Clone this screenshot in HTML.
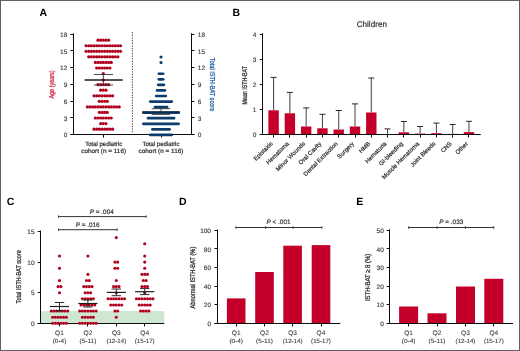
<!DOCTYPE html>
<html><head><meta charset="utf-8"><title>Figure</title>
<style>
html,body{margin:0;padding:0;background:#fff;}
body{width:520px;height:351px;overflow:hidden;}
svg{display:block;font-family:"Liberation Sans",sans-serif;text-rendering:geometricPrecision;}
</style></head>
<body>
<svg width="520" height="351" viewBox="0 0 520 351">
<defs><filter id="soft" x="-5%" y="-5%" width="110%" height="110%"><feGaussianBlur stdDeviation="0.32"/></filter></defs>
<rect x="0" y="0" width="520" height="351" fill="#fff"/>
<g filter="url(#soft)">
<text x="39.5" y="16.2" font-size="10.5" font-weight="bold" fill="#000">A</text>
<line x1="73.50" y1="33.20" x2="73.50" y2="134.95" stroke="#111" stroke-width="1.0"/>
<line x1="191.50" y1="33.20" x2="191.50" y2="134.95" stroke="#111" stroke-width="1.0"/>
<line x1="70.30" y1="134.50" x2="194.40" y2="134.50" stroke="#111" stroke-width="1.0"/>
<line x1="70.30" y1="134.50" x2="73.20" y2="134.50" stroke="#111" stroke-width="1.0"/>
<line x1="191.60" y1="134.50" x2="194.40" y2="134.50" stroke="#111" stroke-width="1.0"/>
<text x="67.30" y="137.25" font-size="6.5" text-anchor="end" fill="#444" stroke="#444" stroke-width="0.18" >0</text>
<text x="197.80" y="137.25" font-size="6.5" text-anchor="start" fill="#444" stroke="#444" stroke-width="0.18" >0</text>
<line x1="70.30" y1="117.50" x2="73.20" y2="117.50" stroke="#111" stroke-width="1.0"/>
<line x1="191.60" y1="117.50" x2="194.40" y2="117.50" stroke="#111" stroke-width="1.0"/>
<text x="67.30" y="120.53" font-size="6.5" text-anchor="end" fill="#444" stroke="#444" stroke-width="0.18" >3</text>
<text x="197.80" y="120.53" font-size="6.5" text-anchor="start" fill="#444" stroke="#444" stroke-width="0.18" >3</text>
<line x1="70.30" y1="101.50" x2="73.20" y2="101.50" stroke="#111" stroke-width="1.0"/>
<line x1="191.60" y1="101.50" x2="194.40" y2="101.50" stroke="#111" stroke-width="1.0"/>
<text x="67.30" y="103.82" font-size="6.5" text-anchor="end" fill="#444" stroke="#444" stroke-width="0.18" >6</text>
<text x="197.80" y="103.82" font-size="6.5" text-anchor="start" fill="#444" stroke="#444" stroke-width="0.18" >6</text>
<line x1="70.30" y1="84.50" x2="73.20" y2="84.50" stroke="#111" stroke-width="1.0"/>
<line x1="191.60" y1="84.50" x2="194.40" y2="84.50" stroke="#111" stroke-width="1.0"/>
<text x="67.30" y="87.10" font-size="6.5" text-anchor="end" fill="#444" stroke="#444" stroke-width="0.18" >9</text>
<text x="197.80" y="87.10" font-size="6.5" text-anchor="start" fill="#444" stroke="#444" stroke-width="0.18" >9</text>
<line x1="70.30" y1="67.50" x2="73.20" y2="67.50" stroke="#111" stroke-width="1.0"/>
<line x1="191.60" y1="67.50" x2="194.40" y2="67.50" stroke="#111" stroke-width="1.0"/>
<text x="67.30" y="70.38" font-size="6.5" text-anchor="end" fill="#444" stroke="#444" stroke-width="0.18" >12</text>
<text x="197.80" y="70.38" font-size="6.5" text-anchor="start" fill="#444" stroke="#444" stroke-width="0.18" >12</text>
<line x1="70.30" y1="50.50" x2="73.20" y2="50.50" stroke="#111" stroke-width="1.0"/>
<line x1="191.60" y1="50.50" x2="194.40" y2="50.50" stroke="#111" stroke-width="1.0"/>
<text x="67.30" y="53.67" font-size="6.5" text-anchor="end" fill="#444" stroke="#444" stroke-width="0.18" >15</text>
<text x="197.80" y="53.67" font-size="6.5" text-anchor="start" fill="#444" stroke="#444" stroke-width="0.18" >15</text>
<line x1="70.30" y1="34.50" x2="73.20" y2="34.50" stroke="#111" stroke-width="1.0"/>
<line x1="191.60" y1="34.50" x2="194.40" y2="34.50" stroke="#111" stroke-width="1.0"/>
<text x="67.30" y="36.95" font-size="6.5" text-anchor="end" fill="#444" stroke="#444" stroke-width="0.18" >18</text>
<text x="197.80" y="36.95" font-size="6.5" text-anchor="start" fill="#444" stroke="#444" stroke-width="0.18" >18</text>
<line x1="103.50" y1="134.50" x2="103.50" y2="137.60" stroke="#111" stroke-width="1.0"/>
<line x1="161.50" y1="134.50" x2="161.50" y2="137.60" stroke="#111" stroke-width="1.0"/>
<line x1="132.4" y1="32.2" x2="132.4" y2="133" stroke="#444" stroke-width="1" stroke-dasharray="1.3 1.3"/>
<text transform="translate(54.40,84.50) rotate(-90)" x="0" y="0" font-size="7.1" text-anchor="middle" fill="#cc2a48" stroke="#cc2a48" stroke-width="0.28" textLength="28.2" lengthAdjust="spacingAndGlyphs">Age (years)</text>
<text transform="translate(210.10,84.55) rotate(90)" x="0" y="0" font-size="7.2" text-anchor="middle" fill="#2a62a0" stroke="#2a62a0" stroke-width="0.28" textLength="53.4" lengthAdjust="spacingAndGlyphs">Total ISTH-BAT score</text>
<circle cx="98.00" cy="40.18" r="1.6" fill="#b0001f"/>
<circle cx="100.65" cy="40.18" r="1.6" fill="#b0001f"/>
<circle cx="103.30" cy="40.18" r="1.6" fill="#b0001f"/>
<circle cx="105.95" cy="40.18" r="1.6" fill="#b0001f"/>
<circle cx="108.60" cy="40.18" r="1.6" fill="#b0001f"/>
<circle cx="86.08" cy="45.74" r="1.6" fill="#b0001f"/>
<circle cx="88.73" cy="45.74" r="1.6" fill="#b0001f"/>
<circle cx="91.38" cy="45.74" r="1.6" fill="#b0001f"/>
<circle cx="94.03" cy="45.74" r="1.6" fill="#b0001f"/>
<circle cx="96.67" cy="45.74" r="1.6" fill="#b0001f"/>
<circle cx="99.33" cy="45.74" r="1.6" fill="#b0001f"/>
<circle cx="101.97" cy="45.74" r="1.6" fill="#b0001f"/>
<circle cx="104.62" cy="45.74" r="1.6" fill="#b0001f"/>
<circle cx="107.28" cy="45.74" r="1.6" fill="#b0001f"/>
<circle cx="109.92" cy="45.74" r="1.6" fill="#b0001f"/>
<circle cx="112.58" cy="45.74" r="1.6" fill="#b0001f"/>
<circle cx="115.22" cy="45.74" r="1.6" fill="#b0001f"/>
<circle cx="117.88" cy="45.74" r="1.6" fill="#b0001f"/>
<circle cx="120.53" cy="45.74" r="1.6" fill="#b0001f"/>
<circle cx="86.08" cy="51.30" r="1.6" fill="#b0001f"/>
<circle cx="88.73" cy="51.30" r="1.6" fill="#b0001f"/>
<circle cx="91.38" cy="51.30" r="1.6" fill="#b0001f"/>
<circle cx="94.03" cy="51.30" r="1.6" fill="#b0001f"/>
<circle cx="96.67" cy="51.30" r="1.6" fill="#b0001f"/>
<circle cx="99.33" cy="51.30" r="1.6" fill="#b0001f"/>
<circle cx="101.97" cy="51.30" r="1.6" fill="#b0001f"/>
<circle cx="104.62" cy="51.30" r="1.6" fill="#b0001f"/>
<circle cx="107.28" cy="51.30" r="1.6" fill="#b0001f"/>
<circle cx="109.92" cy="51.30" r="1.6" fill="#b0001f"/>
<circle cx="112.58" cy="51.30" r="1.6" fill="#b0001f"/>
<circle cx="115.22" cy="51.30" r="1.6" fill="#b0001f"/>
<circle cx="117.88" cy="51.30" r="1.6" fill="#b0001f"/>
<circle cx="120.53" cy="51.30" r="1.6" fill="#b0001f"/>
<circle cx="88.72" cy="56.86" r="1.6" fill="#b0001f"/>
<circle cx="91.38" cy="56.86" r="1.6" fill="#b0001f"/>
<circle cx="94.02" cy="56.86" r="1.6" fill="#b0001f"/>
<circle cx="96.67" cy="56.86" r="1.6" fill="#b0001f"/>
<circle cx="99.32" cy="56.86" r="1.6" fill="#b0001f"/>
<circle cx="101.97" cy="56.86" r="1.6" fill="#b0001f"/>
<circle cx="104.62" cy="56.86" r="1.6" fill="#b0001f"/>
<circle cx="107.27" cy="56.86" r="1.6" fill="#b0001f"/>
<circle cx="109.92" cy="56.86" r="1.6" fill="#b0001f"/>
<circle cx="112.57" cy="56.86" r="1.6" fill="#b0001f"/>
<circle cx="115.22" cy="56.86" r="1.6" fill="#b0001f"/>
<circle cx="117.88" cy="56.86" r="1.6" fill="#b0001f"/>
<circle cx="95.35" cy="62.42" r="1.6" fill="#b0001f"/>
<circle cx="98.00" cy="62.42" r="1.6" fill="#b0001f"/>
<circle cx="100.65" cy="62.42" r="1.6" fill="#b0001f"/>
<circle cx="103.30" cy="62.42" r="1.6" fill="#b0001f"/>
<circle cx="105.95" cy="62.42" r="1.6" fill="#b0001f"/>
<circle cx="108.60" cy="62.42" r="1.6" fill="#b0001f"/>
<circle cx="111.25" cy="62.42" r="1.6" fill="#b0001f"/>
<circle cx="96.67" cy="67.98" r="1.6" fill="#b0001f"/>
<circle cx="99.33" cy="67.98" r="1.6" fill="#b0001f"/>
<circle cx="101.97" cy="67.98" r="1.6" fill="#b0001f"/>
<circle cx="104.62" cy="67.98" r="1.6" fill="#b0001f"/>
<circle cx="107.27" cy="67.98" r="1.6" fill="#b0001f"/>
<circle cx="109.92" cy="67.98" r="1.6" fill="#b0001f"/>
<circle cx="103.30" cy="73.54" r="1.6" fill="#b0001f"/>
<circle cx="98.00" cy="84.66" r="1.6" fill="#b0001f"/>
<circle cx="100.65" cy="84.66" r="1.6" fill="#b0001f"/>
<circle cx="103.30" cy="84.66" r="1.6" fill="#b0001f"/>
<circle cx="105.95" cy="84.66" r="1.6" fill="#b0001f"/>
<circle cx="108.60" cy="84.66" r="1.6" fill="#b0001f"/>
<circle cx="100.65" cy="90.22" r="1.6" fill="#b0001f"/>
<circle cx="103.30" cy="90.22" r="1.6" fill="#b0001f"/>
<circle cx="105.95" cy="90.22" r="1.6" fill="#b0001f"/>
<circle cx="94.02" cy="95.78" r="1.6" fill="#b0001f"/>
<circle cx="96.67" cy="95.78" r="1.6" fill="#b0001f"/>
<circle cx="99.32" cy="95.78" r="1.6" fill="#b0001f"/>
<circle cx="101.97" cy="95.78" r="1.6" fill="#b0001f"/>
<circle cx="104.62" cy="95.78" r="1.6" fill="#b0001f"/>
<circle cx="107.27" cy="95.78" r="1.6" fill="#b0001f"/>
<circle cx="109.92" cy="95.78" r="1.6" fill="#b0001f"/>
<circle cx="112.57" cy="95.78" r="1.6" fill="#b0001f"/>
<circle cx="99.33" cy="101.34" r="1.6" fill="#b0001f"/>
<circle cx="101.98" cy="101.34" r="1.6" fill="#b0001f"/>
<circle cx="104.62" cy="101.34" r="1.6" fill="#b0001f"/>
<circle cx="107.28" cy="101.34" r="1.6" fill="#b0001f"/>
<circle cx="87.40" cy="106.90" r="1.6" fill="#b0001f"/>
<circle cx="90.05" cy="106.90" r="1.6" fill="#b0001f"/>
<circle cx="92.70" cy="106.90" r="1.6" fill="#b0001f"/>
<circle cx="95.35" cy="106.90" r="1.6" fill="#b0001f"/>
<circle cx="98.00" cy="106.90" r="1.6" fill="#b0001f"/>
<circle cx="100.65" cy="106.90" r="1.6" fill="#b0001f"/>
<circle cx="103.30" cy="106.90" r="1.6" fill="#b0001f"/>
<circle cx="105.95" cy="106.90" r="1.6" fill="#b0001f"/>
<circle cx="108.60" cy="106.90" r="1.6" fill="#b0001f"/>
<circle cx="111.25" cy="106.90" r="1.6" fill="#b0001f"/>
<circle cx="113.90" cy="106.90" r="1.6" fill="#b0001f"/>
<circle cx="116.55" cy="106.90" r="1.6" fill="#b0001f"/>
<circle cx="119.20" cy="106.90" r="1.6" fill="#b0001f"/>
<circle cx="99.33" cy="112.46" r="1.6" fill="#b0001f"/>
<circle cx="101.98" cy="112.46" r="1.6" fill="#b0001f"/>
<circle cx="104.62" cy="112.46" r="1.6" fill="#b0001f"/>
<circle cx="107.28" cy="112.46" r="1.6" fill="#b0001f"/>
<circle cx="95.35" cy="118.02" r="1.6" fill="#b0001f"/>
<circle cx="98.00" cy="118.02" r="1.6" fill="#b0001f"/>
<circle cx="100.65" cy="118.02" r="1.6" fill="#b0001f"/>
<circle cx="103.30" cy="118.02" r="1.6" fill="#b0001f"/>
<circle cx="105.95" cy="118.02" r="1.6" fill="#b0001f"/>
<circle cx="108.60" cy="118.02" r="1.6" fill="#b0001f"/>
<circle cx="111.25" cy="118.02" r="1.6" fill="#b0001f"/>
<circle cx="100.65" cy="123.58" r="1.6" fill="#b0001f"/>
<circle cx="103.30" cy="123.58" r="1.6" fill="#b0001f"/>
<circle cx="105.95" cy="123.58" r="1.6" fill="#b0001f"/>
<circle cx="94.02" cy="129.14" r="1.6" fill="#b0001f"/>
<circle cx="96.67" cy="129.14" r="1.6" fill="#b0001f"/>
<circle cx="99.32" cy="129.14" r="1.6" fill="#b0001f"/>
<circle cx="101.97" cy="129.14" r="1.6" fill="#b0001f"/>
<circle cx="104.62" cy="129.14" r="1.6" fill="#b0001f"/>
<circle cx="107.27" cy="129.14" r="1.6" fill="#b0001f"/>
<circle cx="109.92" cy="129.14" r="1.6" fill="#b0001f"/>
<circle cx="112.57" cy="129.14" r="1.6" fill="#b0001f"/>
<line x1="84.60" y1="80.00" x2="122.70" y2="80.00" stroke="#1a1a1a" stroke-width="1.6"/>
<line x1="93.90" y1="74.50" x2="113.00" y2="74.50" stroke="#333" stroke-width="0.9"/>
<line x1="93.90" y1="85.00" x2="113.00" y2="85.00" stroke="#333" stroke-width="0.9"/>
<line x1="103.30" y1="74.50" x2="103.30" y2="85.00" stroke="#333" stroke-width="0.9"/>
<circle cx="103.30" cy="80.00" r="1.6" fill="#6a0010"/>
<circle cx="161.00" cy="57.06" r="1.55" fill="#0b3d6e"/>
<circle cx="161.00" cy="62.62" r="1.55" fill="#0b3d6e"/>
<rect x="157.50" y="72.39" width="7.00" height="2.70" rx="1.35" fill="#0b3d6e"/>
<rect x="157.50" y="77.95" width="7.00" height="2.70" rx="1.35" fill="#0b3d6e"/>
<rect x="156.75" y="83.51" width="8.50" height="2.70" rx="1.35" fill="#0b3d6e"/>
<rect x="155.75" y="89.07" width="10.50" height="2.70" rx="1.35" fill="#0b3d6e"/>
<rect x="154.85" y="94.63" width="12.30" height="2.70" rx="1.35" fill="#0b3d6e"/>
<rect x="148.90" y="100.19" width="24.20" height="2.70" rx="1.35" fill="#0b3d6e"/>
<rect x="153.55" y="105.75" width="14.90" height="2.70" rx="1.35" fill="#0b3d6e"/>
<rect x="142.00" y="111.31" width="38.00" height="2.70" rx="1.35" fill="#0b3d6e"/>
<rect x="146.70" y="116.87" width="28.60" height="2.70" rx="1.35" fill="#0b3d6e"/>
<rect x="142.00" y="122.43" width="38.00" height="2.70" rx="1.35" fill="#0b3d6e"/>
<rect x="151.05" y="127.99" width="19.90" height="2.70" rx="1.35" fill="#0b3d6e"/>
<rect x="148.90" y="133.55" width="24.20" height="2.70" rx="1.35" fill="#0b3d6e"/>
<line x1="142.00" y1="112.00" x2="180.00" y2="112.00" stroke="#15222f" stroke-width="1.2"/>
<line x1="151.70" y1="108.70" x2="170.20" y2="108.70" stroke="#333" stroke-width="0.9"/>
<line x1="151.70" y1="114.40" x2="170.20" y2="114.40" stroke="#333" stroke-width="0.9"/>
<line x1="161.00" y1="108.70" x2="161.00" y2="114.40" stroke="#333" stroke-width="0.9"/>
<text x="103.70" y="146.40" font-size="6.2" text-anchor="middle" fill="#333" stroke="#333" stroke-width="0.22" textLength="36.9" lengthAdjust="spacingAndGlyphs" >Total pediatric</text>
<text x="103.70" y="153.30" font-size="6.2" text-anchor="middle" fill="#333" stroke="#333" stroke-width="0.22" textLength="44.9" lengthAdjust="spacingAndGlyphs" >cohort (n = 116)</text>
<text x="161.00" y="146.40" font-size="6.2" text-anchor="middle" fill="#333" stroke="#333" stroke-width="0.22" textLength="36.9" lengthAdjust="spacingAndGlyphs" >Total pediatric</text>
<text x="161.00" y="153.30" font-size="6.2" text-anchor="middle" fill="#333" stroke="#333" stroke-width="0.22" textLength="44.9" lengthAdjust="spacingAndGlyphs" >cohort (n = 116)</text>
<text x="232.4" y="16.2" font-size="10.5" font-weight="bold" fill="#000">B</text>
<text x="371.80" y="26.90" font-size="8.3" text-anchor="middle" fill="#333" stroke="#333" stroke-width="0.22" textLength="30.3" lengthAdjust="spacingAndGlyphs" >Children</text>
<line x1="262.50" y1="33.20" x2="262.50" y2="134.95" stroke="#111" stroke-width="1.0"/>
<line x1="259.80" y1="134.50" x2="480.50" y2="134.50" stroke="#111" stroke-width="1.0"/>
<line x1="259.80" y1="134.50" x2="262.50" y2="134.50" stroke="#111" stroke-width="1.0"/>
<text x="256.30" y="137.25" font-size="6.5" text-anchor="end" fill="#444" stroke="#444" stroke-width="0.18" >0</text>
<line x1="259.80" y1="109.50" x2="262.50" y2="109.50" stroke="#111" stroke-width="1.0"/>
<text x="256.30" y="112.17" font-size="6.5" text-anchor="end" fill="#444" stroke="#444" stroke-width="0.18" >1</text>
<line x1="259.80" y1="84.50" x2="262.50" y2="84.50" stroke="#111" stroke-width="1.0"/>
<text x="256.30" y="87.10" font-size="6.5" text-anchor="end" fill="#444" stroke="#444" stroke-width="0.18" >2</text>
<line x1="259.80" y1="59.50" x2="262.50" y2="59.50" stroke="#111" stroke-width="1.0"/>
<text x="256.30" y="62.03" font-size="6.5" text-anchor="end" fill="#444" stroke="#444" stroke-width="0.18" >3</text>
<line x1="259.80" y1="34.50" x2="262.50" y2="34.50" stroke="#111" stroke-width="1.0"/>
<text x="256.30" y="36.95" font-size="6.5" text-anchor="end" fill="#444" stroke="#444" stroke-width="0.18" >4</text>
<text transform="translate(246.80,85.25) rotate(-90)" x="0" y="0" font-size="6.9" text-anchor="middle" fill="#333" stroke="#333" stroke-width="0.3" textLength="38.4" lengthAdjust="spacingAndGlyphs">Mean ISTH-BAT</text>
<line x1="273.60" y1="77.40" x2="273.60" y2="110.30" stroke="#2a2a2a" stroke-width="0.9"/>
<line x1="270.60" y1="77.40" x2="276.60" y2="77.40" stroke="#2a2a2a" stroke-width="1.0"/>
<rect x="268.40" y="110.30" width="10.40" height="24.20" fill="#c4052a"/>
<line x1="273.50" y1="134.50" x2="273.50" y2="137.60" stroke="#111" stroke-width="1.0"/>
<text transform="translate(271.60,142.70) rotate(-45)" x="0" y="2.0" font-size="6.0" text-anchor="end" fill="#333" stroke="#333" stroke-width="0.22">Epistaxis</text>
<line x1="289.88" y1="92.40" x2="289.88" y2="113.30" stroke="#2a2a2a" stroke-width="0.9"/>
<line x1="286.88" y1="92.40" x2="292.88" y2="92.40" stroke="#2a2a2a" stroke-width="1.0"/>
<rect x="284.68" y="113.30" width="10.40" height="21.20" fill="#c4052a"/>
<line x1="289.50" y1="134.50" x2="289.50" y2="137.60" stroke="#111" stroke-width="1.0"/>
<text transform="translate(287.88,142.70) rotate(-45)" x="0" y="2.0" font-size="6.0" text-anchor="end" fill="#333" stroke="#333" stroke-width="0.22">Hematoma</text>
<line x1="306.16" y1="107.90" x2="306.16" y2="126.50" stroke="#2a2a2a" stroke-width="0.9"/>
<line x1="303.16" y1="107.90" x2="309.16" y2="107.90" stroke="#2a2a2a" stroke-width="1.0"/>
<rect x="300.96" y="126.50" width="10.40" height="8.00" fill="#c4052a"/>
<line x1="306.50" y1="134.50" x2="306.50" y2="137.60" stroke="#111" stroke-width="1.0"/>
<text transform="translate(304.16,142.70) rotate(-45)" x="0" y="2.0" font-size="6.0" text-anchor="end" fill="#333" stroke="#333" stroke-width="0.22">Minor Wounds</text>
<line x1="322.44" y1="114.30" x2="322.44" y2="128.30" stroke="#2a2a2a" stroke-width="0.9"/>
<line x1="319.44" y1="114.30" x2="325.44" y2="114.30" stroke="#2a2a2a" stroke-width="1.0"/>
<rect x="317.24" y="128.30" width="10.40" height="6.20" fill="#c4052a"/>
<line x1="322.50" y1="134.50" x2="322.50" y2="137.60" stroke="#111" stroke-width="1.0"/>
<text transform="translate(320.44,142.70) rotate(-45)" x="0" y="2.0" font-size="6.0" text-anchor="end" fill="#333" stroke="#333" stroke-width="0.22">Oral Cavity</text>
<line x1="338.72" y1="110.50" x2="338.72" y2="129.50" stroke="#2a2a2a" stroke-width="0.9"/>
<line x1="335.72" y1="110.50" x2="341.72" y2="110.50" stroke="#2a2a2a" stroke-width="1.0"/>
<rect x="333.52" y="129.50" width="10.40" height="5.00" fill="#c4052a"/>
<line x1="338.50" y1="134.50" x2="338.50" y2="137.60" stroke="#111" stroke-width="1.0"/>
<text transform="translate(336.72,142.70) rotate(-45)" x="0" y="2.0" font-size="6.0" text-anchor="end" fill="#333" stroke="#333" stroke-width="0.22">Dental Extraction</text>
<line x1="355.00" y1="103.90" x2="355.00" y2="126.50" stroke="#2a2a2a" stroke-width="0.9"/>
<line x1="352.00" y1="103.90" x2="358.00" y2="103.90" stroke="#2a2a2a" stroke-width="1.0"/>
<rect x="349.80" y="126.50" width="10.40" height="8.00" fill="#c4052a"/>
<line x1="355.50" y1="134.50" x2="355.50" y2="137.60" stroke="#111" stroke-width="1.0"/>
<text transform="translate(353.00,142.70) rotate(-45)" x="0" y="2.0" font-size="6.0" text-anchor="end" fill="#333" stroke="#333" stroke-width="0.22">Surgery</text>
<line x1="371.28" y1="78.00" x2="371.28" y2="112.50" stroke="#2a2a2a" stroke-width="0.9"/>
<line x1="368.28" y1="78.00" x2="374.28" y2="78.00" stroke="#2a2a2a" stroke-width="1.0"/>
<rect x="366.08" y="112.50" width="10.40" height="22.00" fill="#c4052a"/>
<line x1="371.50" y1="134.50" x2="371.50" y2="137.60" stroke="#111" stroke-width="1.0"/>
<text transform="translate(369.28,142.70) rotate(-45)" x="0" y="2.0" font-size="6.0" text-anchor="end" fill="#333" stroke="#333" stroke-width="0.22">HMB</text>
<line x1="387.56" y1="128.90" x2="387.56" y2="134.50" stroke="#2a2a2a" stroke-width="0.9"/>
<line x1="384.56" y1="128.90" x2="390.56" y2="128.90" stroke="#2a2a2a" stroke-width="1.0"/>
<line x1="387.50" y1="134.50" x2="387.50" y2="137.60" stroke="#111" stroke-width="1.0"/>
<text transform="translate(385.56,142.70) rotate(-45)" x="0" y="2.0" font-size="6.0" text-anchor="end" fill="#333" stroke="#333" stroke-width="0.22">Hematuria</text>
<line x1="403.84" y1="121.50" x2="403.84" y2="132.30" stroke="#2a2a2a" stroke-width="0.9"/>
<line x1="400.84" y1="121.50" x2="406.84" y2="121.50" stroke="#2a2a2a" stroke-width="1.0"/>
<rect x="398.64" y="132.30" width="10.40" height="2.20" fill="#c4052a"/>
<line x1="403.50" y1="134.50" x2="403.50" y2="137.60" stroke="#111" stroke-width="1.0"/>
<text transform="translate(401.84,142.70) rotate(-45)" x="0" y="2.0" font-size="6.0" text-anchor="end" fill="#333" stroke="#333" stroke-width="0.22">GI-bleeding</text>
<line x1="420.12" y1="126.50" x2="420.12" y2="133.60" stroke="#2a2a2a" stroke-width="0.9"/>
<line x1="417.12" y1="126.50" x2="423.12" y2="126.50" stroke="#2a2a2a" stroke-width="1.0"/>
<rect x="414.92" y="133.60" width="10.40" height="0.90" fill="#c4052a"/>
<line x1="420.50" y1="134.50" x2="420.50" y2="137.60" stroke="#111" stroke-width="1.0"/>
<text transform="translate(418.12,142.70) rotate(-45)" x="0" y="2.0" font-size="6.0" text-anchor="end" fill="#333" stroke="#333" stroke-width="0.22">Muscle Hematoma</text>
<line x1="436.40" y1="123.10" x2="436.40" y2="133.20" stroke="#2a2a2a" stroke-width="0.9"/>
<line x1="433.40" y1="123.10" x2="439.40" y2="123.10" stroke="#2a2a2a" stroke-width="1.0"/>
<rect x="431.20" y="133.20" width="10.40" height="1.30" fill="#c4052a"/>
<line x1="436.50" y1="134.50" x2="436.50" y2="137.60" stroke="#111" stroke-width="1.0"/>
<text transform="translate(434.40,142.70) rotate(-45)" x="0" y="2.0" font-size="6.0" text-anchor="end" fill="#333" stroke="#333" stroke-width="0.22">Joint Bleeds</text>
<line x1="452.68" y1="124.50" x2="452.68" y2="133.90" stroke="#2a2a2a" stroke-width="0.9"/>
<line x1="449.68" y1="124.50" x2="455.68" y2="124.50" stroke="#2a2a2a" stroke-width="1.0"/>
<rect x="447.48" y="133.90" width="10.40" height="0.60" fill="#c4052a"/>
<line x1="452.50" y1="134.50" x2="452.50" y2="137.60" stroke="#111" stroke-width="1.0"/>
<text transform="translate(450.68,142.70) rotate(-45)" x="0" y="2.0" font-size="6.0" text-anchor="end" fill="#333" stroke="#333" stroke-width="0.22">CNS</text>
<line x1="468.96" y1="121.30" x2="468.96" y2="132.10" stroke="#2a2a2a" stroke-width="0.9"/>
<line x1="465.96" y1="121.30" x2="471.96" y2="121.30" stroke="#2a2a2a" stroke-width="1.0"/>
<rect x="463.76" y="132.10" width="10.40" height="2.40" fill="#c4052a"/>
<line x1="468.50" y1="134.50" x2="468.50" y2="137.60" stroke="#111" stroke-width="1.0"/>
<text transform="translate(466.96,142.70) rotate(-45)" x="0" y="2.0" font-size="6.0" text-anchor="end" fill="#333" stroke="#333" stroke-width="0.22">Other</text>
<line x1="259.80" y1="134.50" x2="480.50" y2="134.50" stroke="#111" stroke-width="1.0"/>
<text x="6.8" y="205.4" font-size="10.5" font-weight="bold" fill="#000">C</text>
<rect x="40.70" y="311.06" width="123.60" height="12.24" fill="#cfe7d2"/>
<line x1="40.50" y1="230.50" x2="40.50" y2="323.75" stroke="#111" stroke-width="1.0"/>
<line x1="37.70" y1="323.50" x2="164.30" y2="323.50" stroke="#111" stroke-width="1.0"/>
<line x1="37.70" y1="323.50" x2="40.70" y2="323.50" stroke="#111" stroke-width="1.0"/>
<text x="34.60" y="326.05" font-size="6.5" text-anchor="end" fill="#444" stroke="#444" stroke-width="0.18" >0</text>
<line x1="37.70" y1="292.50" x2="40.70" y2="292.50" stroke="#111" stroke-width="1.0"/>
<text x="34.60" y="295.45" font-size="6.5" text-anchor="end" fill="#444" stroke="#444" stroke-width="0.18" >5</text>
<line x1="37.70" y1="262.50" x2="40.70" y2="262.50" stroke="#111" stroke-width="1.0"/>
<text x="34.60" y="264.85" font-size="6.5" text-anchor="end" fill="#444" stroke="#444" stroke-width="0.18" >10</text>
<line x1="37.70" y1="231.50" x2="40.70" y2="231.50" stroke="#111" stroke-width="1.0"/>
<text x="34.60" y="234.25" font-size="6.5" text-anchor="end" fill="#444" stroke="#444" stroke-width="0.18" >15</text>
<text transform="translate(21.40,276.80) rotate(-90)" x="0" y="0" font-size="6.9" text-anchor="middle" fill="#333" stroke="#333" stroke-width="0.3" textLength="53.2" lengthAdjust="spacingAndGlyphs">Total ISTH-BAT score</text>
<circle cx="52.62" cy="323.30" r="1.55" fill="#b0001f"/>
<circle cx="55.38" cy="323.30" r="1.55" fill="#b0001f"/>
<circle cx="58.12" cy="323.30" r="1.55" fill="#b0001f"/>
<circle cx="60.88" cy="323.30" r="1.55" fill="#b0001f"/>
<circle cx="63.62" cy="323.30" r="1.55" fill="#b0001f"/>
<circle cx="66.38" cy="323.30" r="1.55" fill="#b0001f"/>
<circle cx="52.62" cy="317.18" r="1.55" fill="#b0001f"/>
<circle cx="55.38" cy="317.18" r="1.55" fill="#b0001f"/>
<circle cx="58.12" cy="317.18" r="1.55" fill="#b0001f"/>
<circle cx="60.88" cy="317.18" r="1.55" fill="#b0001f"/>
<circle cx="63.62" cy="317.18" r="1.55" fill="#b0001f"/>
<circle cx="66.38" cy="317.18" r="1.55" fill="#b0001f"/>
<circle cx="51.25" cy="311.06" r="1.55" fill="#b0001f"/>
<circle cx="54.00" cy="311.06" r="1.55" fill="#b0001f"/>
<circle cx="56.75" cy="311.06" r="1.55" fill="#b0001f"/>
<circle cx="59.50" cy="311.06" r="1.55" fill="#b0001f"/>
<circle cx="62.25" cy="311.06" r="1.55" fill="#b0001f"/>
<circle cx="65.00" cy="311.06" r="1.55" fill="#b0001f"/>
<circle cx="67.75" cy="311.06" r="1.55" fill="#b0001f"/>
<circle cx="59.50" cy="292.70" r="1.55" fill="#b0001f"/>
<circle cx="58.12" cy="286.58" r="1.55" fill="#b0001f"/>
<circle cx="60.88" cy="286.58" r="1.55" fill="#b0001f"/>
<circle cx="59.50" cy="280.46" r="1.55" fill="#b0001f"/>
<circle cx="59.50" cy="268.22" r="1.55" fill="#b0001f"/>
<circle cx="59.50" cy="255.98" r="1.55" fill="#b0001f"/>
<line x1="49.90" y1="306.50" x2="69.10" y2="306.50" stroke="#1a1a1a" stroke-width="1.15"/>
<line x1="54.80" y1="302.50" x2="64.20" y2="302.50" stroke="#2a2a2a" stroke-width="1.0"/>
<line x1="54.80" y1="310.60" x2="64.20" y2="310.60" stroke="#2a2a2a" stroke-width="1.0"/>
<line x1="59.50" y1="302.50" x2="59.50" y2="310.60" stroke="#2a2a2a" stroke-width="1.0"/>
<line x1="59.50" y1="323.30" x2="59.50" y2="326.40" stroke="#111" stroke-width="1.0"/>
<text x="59.50" y="335.20" font-size="6.6" text-anchor="middle" fill="#444" stroke="#444" stroke-width="0.1" >Q1</text>
<text x="59.50" y="342.70" font-size="6.1" text-anchor="middle" fill="#444" stroke="#444" stroke-width="0.12" textLength="13.6" lengthAdjust="spacingAndGlyphs" >(0-4)</text>
<circle cx="79.65" cy="323.30" r="1.55" fill="#b0001f"/>
<circle cx="82.40" cy="323.30" r="1.55" fill="#b0001f"/>
<circle cx="85.15" cy="323.30" r="1.55" fill="#b0001f"/>
<circle cx="87.90" cy="323.30" r="1.55" fill="#b0001f"/>
<circle cx="90.65" cy="323.30" r="1.55" fill="#b0001f"/>
<circle cx="93.40" cy="323.30" r="1.55" fill="#b0001f"/>
<circle cx="96.15" cy="323.30" r="1.55" fill="#b0001f"/>
<circle cx="82.40" cy="317.18" r="1.55" fill="#b0001f"/>
<circle cx="85.15" cy="317.18" r="1.55" fill="#b0001f"/>
<circle cx="87.90" cy="317.18" r="1.55" fill="#b0001f"/>
<circle cx="90.65" cy="317.18" r="1.55" fill="#b0001f"/>
<circle cx="93.40" cy="317.18" r="1.55" fill="#b0001f"/>
<circle cx="79.65" cy="311.06" r="1.55" fill="#b0001f"/>
<circle cx="82.40" cy="311.06" r="1.55" fill="#b0001f"/>
<circle cx="85.15" cy="311.06" r="1.55" fill="#b0001f"/>
<circle cx="87.90" cy="311.06" r="1.55" fill="#b0001f"/>
<circle cx="90.65" cy="311.06" r="1.55" fill="#b0001f"/>
<circle cx="93.40" cy="311.06" r="1.55" fill="#b0001f"/>
<circle cx="96.15" cy="311.06" r="1.55" fill="#b0001f"/>
<circle cx="81.03" cy="304.94" r="1.55" fill="#b0001f"/>
<circle cx="83.78" cy="304.94" r="1.55" fill="#b0001f"/>
<circle cx="86.53" cy="304.94" r="1.55" fill="#b0001f"/>
<circle cx="89.28" cy="304.94" r="1.55" fill="#b0001f"/>
<circle cx="92.03" cy="304.94" r="1.55" fill="#b0001f"/>
<circle cx="94.78" cy="304.94" r="1.55" fill="#b0001f"/>
<circle cx="82.40" cy="298.82" r="1.55" fill="#b0001f"/>
<circle cx="85.15" cy="298.82" r="1.55" fill="#b0001f"/>
<circle cx="87.90" cy="298.82" r="1.55" fill="#b0001f"/>
<circle cx="90.65" cy="298.82" r="1.55" fill="#b0001f"/>
<circle cx="93.40" cy="298.82" r="1.55" fill="#b0001f"/>
<circle cx="85.15" cy="292.70" r="1.55" fill="#b0001f"/>
<circle cx="87.90" cy="292.70" r="1.55" fill="#b0001f"/>
<circle cx="90.65" cy="292.70" r="1.55" fill="#b0001f"/>
<circle cx="83.78" cy="286.58" r="1.55" fill="#b0001f"/>
<circle cx="86.53" cy="286.58" r="1.55" fill="#b0001f"/>
<circle cx="89.28" cy="286.58" r="1.55" fill="#b0001f"/>
<circle cx="92.03" cy="286.58" r="1.55" fill="#b0001f"/>
<circle cx="86.53" cy="280.46" r="1.55" fill="#b0001f"/>
<circle cx="89.28" cy="280.46" r="1.55" fill="#b0001f"/>
<circle cx="87.90" cy="274.34" r="1.55" fill="#b0001f"/>
<circle cx="87.90" cy="255.98" r="1.55" fill="#b0001f"/>
<line x1="78.30" y1="303.50" x2="97.50" y2="303.50" stroke="#1a1a1a" stroke-width="1.15"/>
<line x1="83.20" y1="300.00" x2="92.60" y2="300.00" stroke="#2a2a2a" stroke-width="1.0"/>
<line x1="83.20" y1="307.00" x2="92.60" y2="307.00" stroke="#2a2a2a" stroke-width="1.0"/>
<line x1="87.90" y1="300.00" x2="87.90" y2="307.00" stroke="#2a2a2a" stroke-width="1.0"/>
<line x1="87.50" y1="323.30" x2="87.50" y2="326.40" stroke="#111" stroke-width="1.0"/>
<text x="87.90" y="335.20" font-size="6.6" text-anchor="middle" fill="#444" stroke="#444" stroke-width="0.1" >Q2</text>
<text x="87.90" y="342.70" font-size="6.1" text-anchor="middle" fill="#444" stroke="#444" stroke-width="0.12" textLength="16.8" lengthAdjust="spacingAndGlyphs" >(5-11)</text>
<circle cx="116.30" cy="317.18" r="1.55" fill="#b0001f"/>
<circle cx="114.92" cy="311.06" r="1.55" fill="#b0001f"/>
<circle cx="117.67" cy="311.06" r="1.55" fill="#b0001f"/>
<circle cx="110.80" cy="304.94" r="1.55" fill="#b0001f"/>
<circle cx="113.55" cy="304.94" r="1.55" fill="#b0001f"/>
<circle cx="116.30" cy="304.94" r="1.55" fill="#b0001f"/>
<circle cx="119.05" cy="304.94" r="1.55" fill="#b0001f"/>
<circle cx="121.80" cy="304.94" r="1.55" fill="#b0001f"/>
<circle cx="108.05" cy="298.82" r="1.55" fill="#b0001f"/>
<circle cx="110.80" cy="298.82" r="1.55" fill="#b0001f"/>
<circle cx="113.55" cy="298.82" r="1.55" fill="#b0001f"/>
<circle cx="116.30" cy="298.82" r="1.55" fill="#b0001f"/>
<circle cx="119.05" cy="298.82" r="1.55" fill="#b0001f"/>
<circle cx="121.80" cy="298.82" r="1.55" fill="#b0001f"/>
<circle cx="124.55" cy="298.82" r="1.55" fill="#b0001f"/>
<circle cx="116.30" cy="292.70" r="1.55" fill="#b0001f"/>
<circle cx="113.55" cy="286.58" r="1.55" fill="#b0001f"/>
<circle cx="116.30" cy="286.58" r="1.55" fill="#b0001f"/>
<circle cx="119.05" cy="286.58" r="1.55" fill="#b0001f"/>
<circle cx="116.30" cy="280.46" r="1.55" fill="#b0001f"/>
<circle cx="114.92" cy="268.22" r="1.55" fill="#b0001f"/>
<circle cx="117.67" cy="268.22" r="1.55" fill="#b0001f"/>
<circle cx="114.92" cy="262.10" r="1.55" fill="#b0001f"/>
<circle cx="117.67" cy="262.10" r="1.55" fill="#b0001f"/>
<circle cx="116.30" cy="237.62" r="1.55" fill="#b0001f"/>
<line x1="106.70" y1="292.40" x2="125.90" y2="292.40" stroke="#1a1a1a" stroke-width="1.15"/>
<line x1="111.60" y1="289.00" x2="121.00" y2="289.00" stroke="#2a2a2a" stroke-width="1.0"/>
<line x1="111.60" y1="295.70" x2="121.00" y2="295.70" stroke="#2a2a2a" stroke-width="1.0"/>
<line x1="116.30" y1="289.00" x2="116.30" y2="295.70" stroke="#2a2a2a" stroke-width="1.0"/>
<line x1="116.50" y1="323.30" x2="116.50" y2="326.40" stroke="#111" stroke-width="1.0"/>
<text x="116.30" y="335.20" font-size="6.6" text-anchor="middle" fill="#444" stroke="#444" stroke-width="0.1" >Q3</text>
<text x="116.30" y="342.70" font-size="6.1" text-anchor="middle" fill="#444" stroke="#444" stroke-width="0.12" textLength="19.8" lengthAdjust="spacingAndGlyphs" >(12-14)</text>
<circle cx="140.57" cy="311.06" r="1.55" fill="#b0001f"/>
<circle cx="143.32" cy="311.06" r="1.55" fill="#b0001f"/>
<circle cx="146.07" cy="311.06" r="1.55" fill="#b0001f"/>
<circle cx="148.82" cy="311.06" r="1.55" fill="#b0001f"/>
<circle cx="139.20" cy="304.94" r="1.55" fill="#b0001f"/>
<circle cx="141.95" cy="304.94" r="1.55" fill="#b0001f"/>
<circle cx="144.70" cy="304.94" r="1.55" fill="#b0001f"/>
<circle cx="147.45" cy="304.94" r="1.55" fill="#b0001f"/>
<circle cx="150.20" cy="304.94" r="1.55" fill="#b0001f"/>
<circle cx="136.45" cy="298.82" r="1.55" fill="#b0001f"/>
<circle cx="139.20" cy="298.82" r="1.55" fill="#b0001f"/>
<circle cx="141.95" cy="298.82" r="1.55" fill="#b0001f"/>
<circle cx="144.70" cy="298.82" r="1.55" fill="#b0001f"/>
<circle cx="147.45" cy="298.82" r="1.55" fill="#b0001f"/>
<circle cx="150.20" cy="298.82" r="1.55" fill="#b0001f"/>
<circle cx="152.95" cy="298.82" r="1.55" fill="#b0001f"/>
<circle cx="144.70" cy="292.70" r="1.55" fill="#b0001f"/>
<circle cx="141.95" cy="286.58" r="1.55" fill="#b0001f"/>
<circle cx="144.70" cy="286.58" r="1.55" fill="#b0001f"/>
<circle cx="147.45" cy="286.58" r="1.55" fill="#b0001f"/>
<circle cx="143.32" cy="280.46" r="1.55" fill="#b0001f"/>
<circle cx="146.07" cy="280.46" r="1.55" fill="#b0001f"/>
<circle cx="141.95" cy="274.34" r="1.55" fill="#b0001f"/>
<circle cx="144.70" cy="274.34" r="1.55" fill="#b0001f"/>
<circle cx="147.45" cy="274.34" r="1.55" fill="#b0001f"/>
<circle cx="144.70" cy="268.22" r="1.55" fill="#b0001f"/>
<circle cx="144.70" cy="262.10" r="1.55" fill="#b0001f"/>
<circle cx="144.70" cy="255.98" r="1.55" fill="#b0001f"/>
<circle cx="144.70" cy="243.74" r="1.55" fill="#b0001f"/>
<line x1="135.10" y1="291.70" x2="154.30" y2="291.70" stroke="#1a1a1a" stroke-width="1.15"/>
<line x1="140.00" y1="288.60" x2="149.40" y2="288.60" stroke="#2a2a2a" stroke-width="1.0"/>
<line x1="140.00" y1="294.60" x2="149.40" y2="294.60" stroke="#2a2a2a" stroke-width="1.0"/>
<line x1="144.70" y1="288.60" x2="144.70" y2="294.60" stroke="#2a2a2a" stroke-width="1.0"/>
<line x1="144.50" y1="323.30" x2="144.50" y2="326.40" stroke="#111" stroke-width="1.0"/>
<text x="144.70" y="335.20" font-size="6.6" text-anchor="middle" fill="#444" stroke="#444" stroke-width="0.1" >Q4</text>
<text x="144.70" y="342.70" font-size="6.1" text-anchor="middle" fill="#444" stroke="#444" stroke-width="0.12" textLength="19.8" lengthAdjust="spacingAndGlyphs" >(15-17)</text>
<line x1="58.50" y1="216.60" x2="146.20" y2="216.60" stroke="#333" stroke-width="1.0"/>
<line x1="58.50" y1="215.40" x2="58.50" y2="217.80" stroke="#333" stroke-width="0.9"/>
<line x1="146.20" y1="215.40" x2="146.20" y2="217.80" stroke="#333" stroke-width="0.9"/>
<text x="101.8" y="213.90" font-size="6.4" text-anchor="middle" fill="#333" stroke="#333" stroke-width="0.2"><tspan font-style="italic">P</tspan> = .004</text>
<line x1="58.50" y1="229.70" x2="117.20" y2="229.70" stroke="#333" stroke-width="1.0"/>
<line x1="58.50" y1="228.50" x2="58.50" y2="230.90" stroke="#333" stroke-width="0.9"/>
<line x1="117.20" y1="228.50" x2="117.20" y2="230.90" stroke="#333" stroke-width="0.9"/>
<text x="87.7" y="227.00" font-size="6.4" text-anchor="middle" fill="#333" stroke="#333" stroke-width="0.2"><tspan font-style="italic">P</tspan> = .016</text>
<text x="179.0" y="205.4" font-size="10.5" font-weight="bold" fill="#000">D</text>
<rect x="226.90" y="298.40" width="18.60" height="24.90" fill="#c4052a"/>
<rect x="255.20" y="272.00" width="18.60" height="51.30" fill="#c4052a"/>
<rect x="283.30" y="245.70" width="18.60" height="77.60" fill="#c4052a"/>
<rect x="311.70" y="245.10" width="18.60" height="78.20" fill="#c4052a"/>
<line x1="217.50" y1="229.40" x2="217.50" y2="323.75" stroke="#111" stroke-width="1.0"/>
<line x1="214.50" y1="323.50" x2="340.40" y2="323.50" stroke="#111" stroke-width="1.0"/>
<line x1="214.50" y1="323.50" x2="217.30" y2="323.50" stroke="#111" stroke-width="1.0"/>
<text x="211.00" y="326.05" font-size="6.5" text-anchor="end" fill="#444" stroke="#444" stroke-width="0.18" >0</text>
<line x1="214.50" y1="304.50" x2="217.30" y2="304.50" stroke="#111" stroke-width="1.0"/>
<text x="211.00" y="307.47" font-size="6.5" text-anchor="end" fill="#444" stroke="#444" stroke-width="0.18" >20</text>
<line x1="214.50" y1="286.50" x2="217.30" y2="286.50" stroke="#111" stroke-width="1.0"/>
<text x="211.00" y="288.89" font-size="6.5" text-anchor="end" fill="#444" stroke="#444" stroke-width="0.18" >40</text>
<line x1="214.50" y1="267.50" x2="217.30" y2="267.50" stroke="#111" stroke-width="1.0"/>
<text x="211.00" y="270.31" font-size="6.5" text-anchor="end" fill="#444" stroke="#444" stroke-width="0.18" >60</text>
<line x1="214.50" y1="248.50" x2="217.30" y2="248.50" stroke="#111" stroke-width="1.0"/>
<text x="211.00" y="251.73" font-size="6.5" text-anchor="end" fill="#444" stroke="#444" stroke-width="0.18" >80</text>
<line x1="214.50" y1="230.50" x2="217.30" y2="230.50" stroke="#111" stroke-width="1.0"/>
<text x="211.00" y="233.15" font-size="6.5" text-anchor="end" fill="#444" stroke="#444" stroke-width="0.18" >100</text>
<text transform="translate(194.80,277.60) rotate(-90)" x="0" y="0" font-size="6.9" text-anchor="middle" fill="#333" stroke="#333" stroke-width="0.3" textLength="61.8" lengthAdjust="spacingAndGlyphs">Abnormal ISTH-BAT (%)</text>
<line x1="236.50" y1="323.30" x2="236.50" y2="326.40" stroke="#111" stroke-width="1.0"/>
<text x="236.20" y="335.20" font-size="6.6" text-anchor="middle" fill="#444" stroke="#444" stroke-width="0.1" >Q1</text>
<text x="236.20" y="342.70" font-size="6.1" text-anchor="middle" fill="#444" stroke="#444" stroke-width="0.12" textLength="13.6" lengthAdjust="spacingAndGlyphs" >(0-4)</text>
<line x1="264.50" y1="323.30" x2="264.50" y2="326.40" stroke="#111" stroke-width="1.0"/>
<text x="264.50" y="335.20" font-size="6.6" text-anchor="middle" fill="#444" stroke="#444" stroke-width="0.1" >Q2</text>
<text x="264.50" y="342.70" font-size="6.1" text-anchor="middle" fill="#444" stroke="#444" stroke-width="0.12" textLength="16.8" lengthAdjust="spacingAndGlyphs" >(5-11)</text>
<line x1="292.50" y1="323.30" x2="292.50" y2="326.40" stroke="#111" stroke-width="1.0"/>
<text x="292.60" y="335.20" font-size="6.6" text-anchor="middle" fill="#444" stroke="#444" stroke-width="0.1" >Q3</text>
<text x="292.60" y="342.70" font-size="6.1" text-anchor="middle" fill="#444" stroke="#444" stroke-width="0.12" textLength="19.8" lengthAdjust="spacingAndGlyphs" >(12-14)</text>
<line x1="321.50" y1="323.30" x2="321.50" y2="326.40" stroke="#111" stroke-width="1.0"/>
<text x="321.00" y="335.20" font-size="6.6" text-anchor="middle" fill="#444" stroke="#444" stroke-width="0.1" >Q4</text>
<text x="321.00" y="342.70" font-size="6.1" text-anchor="middle" fill="#444" stroke="#444" stroke-width="0.12" textLength="19.8" lengthAdjust="spacingAndGlyphs" >(15-17)</text>
<line x1="235.80" y1="227.50" x2="321.90" y2="227.50" stroke="#333" stroke-width="1.0"/>
<line x1="235.80" y1="226.20" x2="235.80" y2="228.80" stroke="#333" stroke-width="0.9"/>
<line x1="265.60" y1="226.20" x2="265.60" y2="228.80" stroke="#333" stroke-width="0.9"/>
<line x1="293.10" y1="226.20" x2="293.10" y2="228.80" stroke="#333" stroke-width="0.9"/>
<line x1="321.90" y1="226.20" x2="321.90" y2="228.80" stroke="#333" stroke-width="0.9"/>
<text x="278.55" y="223.8" font-size="6.4" text-anchor="middle" fill="#333" stroke="#333" stroke-width="0.2"><tspan font-style="italic">P</tspan> &lt; .001</text>
<text x="356.2" y="205.4" font-size="10.5" font-weight="bold" fill="#000">E</text>
<rect x="399.10" y="306.50" width="19.00" height="16.80" fill="#c4052a"/>
<rect x="427.50" y="313.30" width="19.00" height="10.00" fill="#c4052a"/>
<rect x="456.00" y="286.50" width="19.00" height="36.80" fill="#c4052a"/>
<rect x="484.30" y="278.80" width="19.00" height="44.50" fill="#c4052a"/>
<line x1="389.50" y1="229.20" x2="389.50" y2="323.75" stroke="#111" stroke-width="1.0"/>
<line x1="386.70" y1="323.50" x2="513.00" y2="323.50" stroke="#111" stroke-width="1.0"/>
<line x1="386.70" y1="323.50" x2="389.50" y2="323.50" stroke="#111" stroke-width="1.0"/>
<text x="383.80" y="326.05" font-size="6.5" text-anchor="end" fill="#444" stroke="#444" stroke-width="0.18" >0</text>
<line x1="386.70" y1="304.50" x2="389.50" y2="304.50" stroke="#111" stroke-width="1.0"/>
<text x="383.80" y="307.43" font-size="6.5" text-anchor="end" fill="#444" stroke="#444" stroke-width="0.18" >10</text>
<line x1="386.70" y1="286.50" x2="389.50" y2="286.50" stroke="#111" stroke-width="1.0"/>
<text x="383.80" y="288.81" font-size="6.5" text-anchor="end" fill="#444" stroke="#444" stroke-width="0.18" >20</text>
<line x1="386.70" y1="267.50" x2="389.50" y2="267.50" stroke="#111" stroke-width="1.0"/>
<text x="383.80" y="270.19" font-size="6.5" text-anchor="end" fill="#444" stroke="#444" stroke-width="0.18" >30</text>
<line x1="386.70" y1="248.50" x2="389.50" y2="248.50" stroke="#111" stroke-width="1.0"/>
<text x="383.80" y="251.57" font-size="6.5" text-anchor="end" fill="#444" stroke="#444" stroke-width="0.18" >40</text>
<line x1="386.70" y1="230.50" x2="389.50" y2="230.50" stroke="#111" stroke-width="1.0"/>
<text x="383.80" y="232.95" font-size="6.5" text-anchor="end" fill="#444" stroke="#444" stroke-width="0.18" >50</text>
<text transform="translate(370.30,277.40) rotate(-90)" x="0" y="0" font-size="6.9" text-anchor="middle" fill="#333" stroke="#333" stroke-width="0.3" textLength="47.3" lengthAdjust="spacingAndGlyphs">ISTH-BAT ≥ 8 (%)</text>
<line x1="408.50" y1="323.30" x2="408.50" y2="326.40" stroke="#111" stroke-width="1.0"/>
<text x="408.60" y="335.20" font-size="6.6" text-anchor="middle" fill="#444" stroke="#444" stroke-width="0.1" >Q1</text>
<text x="408.60" y="342.70" font-size="6.1" text-anchor="middle" fill="#444" stroke="#444" stroke-width="0.12" textLength="13.6" lengthAdjust="spacingAndGlyphs" >(0-4)</text>
<line x1="437.50" y1="323.30" x2="437.50" y2="326.40" stroke="#111" stroke-width="1.0"/>
<text x="437.00" y="335.20" font-size="6.6" text-anchor="middle" fill="#444" stroke="#444" stroke-width="0.1" >Q2</text>
<text x="437.00" y="342.70" font-size="6.1" text-anchor="middle" fill="#444" stroke="#444" stroke-width="0.12" textLength="16.8" lengthAdjust="spacingAndGlyphs" >(5-11)</text>
<line x1="465.50" y1="323.30" x2="465.50" y2="326.40" stroke="#111" stroke-width="1.0"/>
<text x="465.50" y="335.20" font-size="6.6" text-anchor="middle" fill="#444" stroke="#444" stroke-width="0.1" >Q3</text>
<text x="465.50" y="342.70" font-size="6.1" text-anchor="middle" fill="#444" stroke="#444" stroke-width="0.12" textLength="19.8" lengthAdjust="spacingAndGlyphs" >(12-14)</text>
<line x1="493.50" y1="323.30" x2="493.50" y2="326.40" stroke="#111" stroke-width="1.0"/>
<text x="493.80" y="335.20" font-size="6.6" text-anchor="middle" fill="#444" stroke="#444" stroke-width="0.1" >Q4</text>
<text x="493.80" y="342.70" font-size="6.1" text-anchor="middle" fill="#444" stroke="#444" stroke-width="0.12" textLength="19.8" lengthAdjust="spacingAndGlyphs" >(15-17)</text>
<line x1="408.70" y1="227.50" x2="493.80" y2="227.50" stroke="#333" stroke-width="1.0"/>
<line x1="408.70" y1="226.20" x2="408.70" y2="228.80" stroke="#333" stroke-width="0.9"/>
<line x1="437.10" y1="226.20" x2="437.10" y2="228.80" stroke="#333" stroke-width="0.9"/>
<line x1="465.40" y1="226.20" x2="465.40" y2="228.80" stroke="#333" stroke-width="0.9"/>
<line x1="493.80" y1="226.20" x2="493.80" y2="228.80" stroke="#333" stroke-width="0.9"/>
<text x="451.25" y="223.8" font-size="6.4" text-anchor="middle" fill="#333" stroke="#333" stroke-width="0.2"><tspan font-style="italic">P</tspan> = .033</text>
</g>
<rect x="0.5" y="0.5" width="519" height="350" fill="none" stroke="#606060" stroke-width="1"/>
</svg>
</body></html>
